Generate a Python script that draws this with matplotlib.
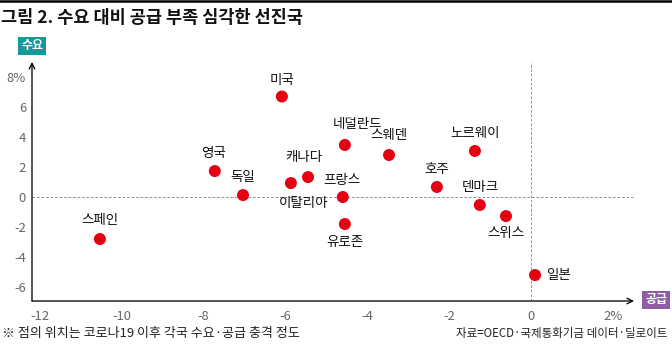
import matplotlib.pyplot as plt

plt.rcParams['font.family'] = ['Noto Sans CJK KR', 'DejaVu Sans']

# supply shock (x) / demand shock (y), %
countries = ['미국', '영국', '독일', '스페인', '캐나다', '이탈리아', '프랑스',
             '네덜란드', '스웨덴', '노르웨이', '호주', '덴마크', '유로존', '스위스', '일본']
supply = [-6.09, -7.73, -7.04, -10.54, -5.45, -5.87, -4.6,
          -4.55, -3.47, -1.37, -2.3, -1.25, -4.55, -0.61, 0.1]
demand = [6.7, 1.73, 0.13, -2.8, 1.33, 0.93, 0.0,
          3.47, 2.8, 3.07, 0.67, -0.53, -1.8, -1.27, -5.2]
# label offsets (px, up positive)
offsets = [(0, 17), (-1, 18), (0, 18), (0, 19), (-4, 20), (13, -20), (-1, 17),
           (13, 21), (0, 20), (0, 18), (0, 18), (0, 18), (0, -18), (0, -17), (11, 0)]

xticks = [-12, -10, -8, -6, -4, -2, 0, 2]
xticklabels = ['-12', '-10', '-8', '-6', '-4', '-2', '0', '2%']
yticks = [-6, -4, -2, 0, 2, 4, 6, 8]
yticklabels = ['-6', '-4', '-2', '0', '2', '4', '6', '8%']

fig = plt.figure(figsize=(672/72, 346/72), dpi=72)
ax = fig.add_axes([32/672, 45/346, 602/672, 239/346])
ax.set_xlim(-12.2, 2.52)
ax.set_ylim(-6.93, 9.0)
for s in ax.spines.values():
    s.set_visible(False)

ax.axhline(0, color='#888888', lw=0.9, ls=(0, (3, 2)), zorder=1)
ax.axvline(0, color='#888888', lw=0.9, ls=(0, (3, 2)), zorder=1)

# axis arrows
ax.annotate('', xy=(0, 1.0), xytext=(0, 0), xycoords='axes fraction',
            arrowprops=dict(arrowstyle='->', lw=1.3, color='black',
                            shrinkA=0, shrinkB=0, mutation_scale=14))
ax.annotate('', xy=(1.0, 0), xytext=(0, 0), xycoords='axes fraction',
            arrowprops=dict(arrowstyle='->', lw=1.3, color='black',
                            shrinkA=0, shrinkB=0, mutation_scale=14))

ax.scatter(supply, demand, s=144, color='#e60012', edgecolors='none', zorder=3)
for name, x, y, (dx, dy) in zip(countries, supply, demand, offsets):
    ha = 'left' if dx > 10 and dy == 0 else 'center'
    ax.annotate(name, (x, y), xytext=(dx, dy), textcoords='offset points',
                ha=ha, va='center', fontsize=13.5, fontweight='medium',
                color='#111111')

ax.set_xticks(xticks)
ax.set_xticklabels(xticklabels)
ax.set_yticks(yticks)
ax.set_yticklabels(yticklabels)
ax.tick_params(length=0, labelsize=13, colors='#666666')
ax.tick_params(axis='x', pad=9)
ax.tick_params(axis='y', pad=6)

# axis name boxes
fig.text(32/672, 1 - 46/346, '수요', ha='center', va='center', fontsize=12,
         color='white', fontweight='bold',
         bbox=dict(boxstyle='square,pad=0.22', fc='#15999a', ec='none'))
fig.text(656/672, 1 - 300/346, '공급', ha='center', va='center', fontsize=12,
         color='white', fontweight='bold',
         bbox=dict(boxstyle='square,pad=0.22', fc='#8f5da6', ec='none'))

fig.text(1/672, 1 - 18/346, '그림 2. 수요 대비 공급 부족 심각한 선진국', ha='left',
         va='center', fontsize=17.5, fontweight='bold', color='#111111')
fig.add_artist(plt.Line2D([0, 1], [1 - 1/346, 1 - 1/346], color='black', lw=2.5,
                          transform=fig.transFigure))
fig.text(2/672, 1 - 334/346, '※ 점의 위치는 코로나19 이후 각국 수요·공급 충격 정도', ha='left',
         va='center', fontsize=13, color='#222222')
fig.text(668/672, 1 - 334/346, '자료=OECD·국제통화기금 데이터·딜로이트', ha='right',
         va='center', fontsize=11.5, color='#222222')

fig.savefig('out.png', dpi=72)
